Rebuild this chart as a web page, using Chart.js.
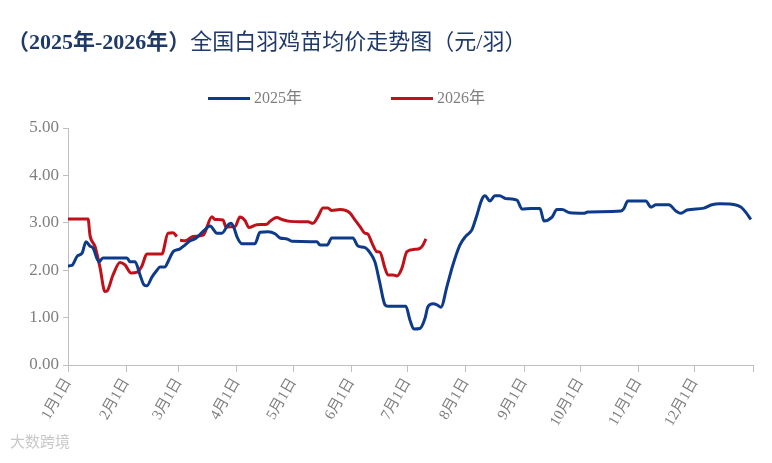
<!DOCTYPE html>
<html>
<head>
<meta charset="utf-8">
<script src="https://cdn.jsdelivr.net/npm/chart.js@4"></script>
<style>
  html, body { margin: 0; padding: 0; background: #fff; }
  #wrap { position: relative; width: 772px; height: 463px; }
  #title {
    position: absolute; left: 7px; top: 27px;
    font-family: "Liberation Serif", "Noto Sans CJK SC", serif;
    font-size: 22px; line-height: 30px; color: #1F3A68; white-space: nowrap;
  }
  #title b { font-weight: bold; }
  #legend {
    position: absolute; top: 88px; left: 0; width: 772px; height: 20px;
    font-family: "Liberation Serif", "Noto Sans CJK SC", serif;
    font-size: 16px; color: #7f7f7f;
  }
  .item { position: absolute; top: 0; line-height: 20px; }
  .swatch { display: inline-block; width: 42px; height: 3px; vertical-align: middle; margin-right: 4px; position: relative; top: -1px; }
  #mark {
    position: absolute; left: 10px; top: 430px;
    font-family: "Noto Sans CJK SC", sans-serif; font-size: 15px; color: #c8c8c8;
  }
</style>
</head>
<body>
<div id="wrap">
  <canvas id="chart" width="772" height="463"></canvas>
  <div id="title"><b>（2025年-2026年）</b>全国白羽鸡苗均价走势图（元/羽）</div>
  <div id="legend"></div>
  <div id="mark">大数跨境</div>
</div>
<script>
// day of year (0 = 1月1日) and price
const days2025 = [0, 2, 5, 7.5, 9.6, 11.7, 13.3, 16.5, 18.6, 31.4, 33, 35.7, 38.4, 40.5, 42, 44.8, 47.4, 49, 51.7, 53.3,
  56, 58, 59.7, 62.3, 65, 68, 72, 75.7, 79.4, 82, 85.2, 86.8, 88.4, 90, 92.7, 99.6, 102.3, 106.6, 110.3, 113,
  116.7, 119.3, 132.7, 134.3, 138, 140.6, 151.8, 154.5, 158, 160.9, 163.6, 166, 168.9, 170.5, 180, 182.2, 184.3, 187.5, 190.2, 191.8,
  194.5, 196.6, 198.7, 202, 205, 208.8, 212, 215.2, 217.4, 220.6, 222.2, 224.8, 227.5, 230, 233.4, 239.2, 241.9, 246.7, 251.5, 253.6,
  257.9, 260.5, 263.2, 267.5, 274.9, 277, 294.6, 296.2, 298.3, 307.9, 310.6, 313.3, 320.2, 323.9, 326.6, 329.8, 338.8, 343.1, 347.4, 356.4,
  358.6, 361.2, 363.9];
const price2025 = [2.09, 2.10, 2.30, 2.36, 2.60, 2.51, 2.47, 2.18, 2.26, 2.26, 2.18, 2.18, 1.90, 1.69, 1.67, 1.86, 2.00, 2.07, 2.07, 2.18,
  2.39, 2.43, 2.45, 2.53, 2.62, 2.67, 2.82, 2.93, 2.78, 2.78, 2.95, 2.99, 2.90, 2.71, 2.56, 2.56, 2.80, 2.81, 2.77, 2.68,
  2.66, 2.61, 2.60, 2.53, 2.53, 2.68, 2.68, 2.51, 2.48, 2.37, 2.17, 1.76, 1.27, 1.24, 1.24, 0.95, 0.76, 0.77, 0.98, 1.23,
  1.29, 1.27, 1.22, 1.67, 2.10, 2.53, 2.72, 2.85, 3.10, 3.50, 3.57, 3.46, 3.57, 3.57, 3.51, 3.48, 3.29, 3.30, 3.30, 3.04,
  3.12, 3.28, 3.28, 3.21, 3.20, 3.23, 3.25, 3.30, 3.46, 3.46, 3.33, 3.38, 3.38, 3.25, 3.20, 3.27, 3.31, 3.38, 3.40, 3.37,
  3.33, 3.22, 3.07];

const days2026 = [0, 10.7, 11.7, 14.4, 17, 19.7, 20.8, 24, 27.7, 30.4, 33.6, 36.8, 39.4, 42, 50, 53.3, 56, 58, 59,
  59.7, 62.3, 66.6, 72, 76.7, 78.3, 82.6, 84.2, 89, 91.6, 94.3, 96.4, 100.7, 106, 107.6, 111.3, 114, 118.3, 123.6, 127.9,
  130.5, 133.2, 135.9, 138.5, 140.6, 144.9, 150.2, 152.9, 155.6, 158.2, 159.8, 162, 164.6, 166.2, 168.9, 170.5, 173.1, 175.3, 177.9, 180.6,
  184.9, 187.5, 189, 190.7];
const price2026 = [3.08, 3.08, 2.74, 2.50, 2.07, 1.55, 1.56, 1.90, 2.16, 2.11, 1.94, 1.96, 2.09, 2.34, 2.34, 2.78, 2.79, 2.71, null,
  2.63, 2.62, 2.71, 2.74, 3.13, 3.07, 3.06, 2.91, 2.92, 3.12, 3.05, 2.90, 2.96, 2.97, 3.03, 3.11, 3.07, 3.03, 3.02, 3.02,
  2.99, 3.13, 3.31, 3.31, 3.26, 3.28, 3.21, 3.06, 2.92, 2.78, 2.76, 2.57, 2.39, 2.38, 2.04, 1.90, 1.90, 1.88, 2.04, 2.39,
  2.44, 2.46, 2.52, 2.66];

const monthStarts = [0, 31, 59, 90, 120, 151, 181, 212, 243, 273, 304, 334, 365];
const monthLabels = ['1月1日', '2月1日', '3月1日', '4月1日', '5月1日', '6月1日', '7月1日', '8月1日', '9月1日', '10月1日', '11月1日', '12月1日', ''];
const yTicks = [0, 1, 2, 3, 4, 5];

const seriesNames = ['2025年', '2026年'];
const seriesColors = ['#0D3B8A', '#C0101A'];

const serif = '"Liberation Serif", "Noto Sans CJK SC", serif';
const axisGray = '#bfbfbf';
const labelGray = '#7f7f7f';

function toPoints(xs, ys) {
  return xs.map((x, i) => ({ x: x, y: ys[i] }));
}

// legend laid out as in the picture
const legendEl = document.getElementById('legend');
[[208, 0], [391, 1]].forEach(([left, i]) => {
  const item = document.createElement('div');
  item.className = 'item';
  item.style.left = left + 'px';
  item.innerHTML = '<span class="swatch" style="background:' + seriesColors[i] + '"></span>' + seriesNames[i];
  legendEl.appendChild(item);
});

new Chart(document.getElementById('chart'), {
  type: 'line',
  data: {
    datasets: [
      { label: seriesNames[0], data: toPoints(days2025, price2025), borderColor: seriesColors[0], borderWidth: 3,
        pointRadius: 0, cubicInterpolationMode: 'monotone', spanGaps: false },
      { label: seriesNames[1], data: toPoints(days2026, price2026), borderColor: seriesColors[1], borderWidth: 3,
        pointRadius: 0, cubicInterpolationMode: 'monotone', spanGaps: false }
    ]
  },
  options: {
    responsive: false,
    animation: false,
    layout: { padding: { top: 128, left: 8, right: 19, bottom: 0 } },
    plugins: { legend: { display: false }, tooltip: { enabled: false } },
    scales: {
      x: {
        type: 'linear', min: 0, max: 365,
        afterBuildTicks: s => { s.ticks = monthStarts.map(v => ({ value: v })); },
        afterFit: s => { s.height = 98; },
        border: { color: axisGray, width: 1 },
        grid: { drawOnChartArea: false, drawTicks: true, tickLength: 7, color: axisGray },
        ticks: {
          autoSkip: false, minRotation: 60, maxRotation: 60, padding: 3,
          color: labelGray, font: { family: serif, size: 15 },
          callback: (v, i) => monthLabels[i]
        }
      },
      y: {
        min: 0, max: 5,
        afterBuildTicks: s => { s.ticks = yTicks.map(v => ({ value: v })); },
        afterFit: s => { s.width = 60; },
        border: { color: axisGray, width: 1 },
        grid: { drawOnChartArea: false, drawTicks: true, tickLength: 5, color: axisGray },
        ticks: {
          padding: 4, color: labelGray, font: { family: serif, size: 17 },
          callback: v => v.toFixed(2)
        }
      }
    }
  }
});
</script>
</body>
</html>
